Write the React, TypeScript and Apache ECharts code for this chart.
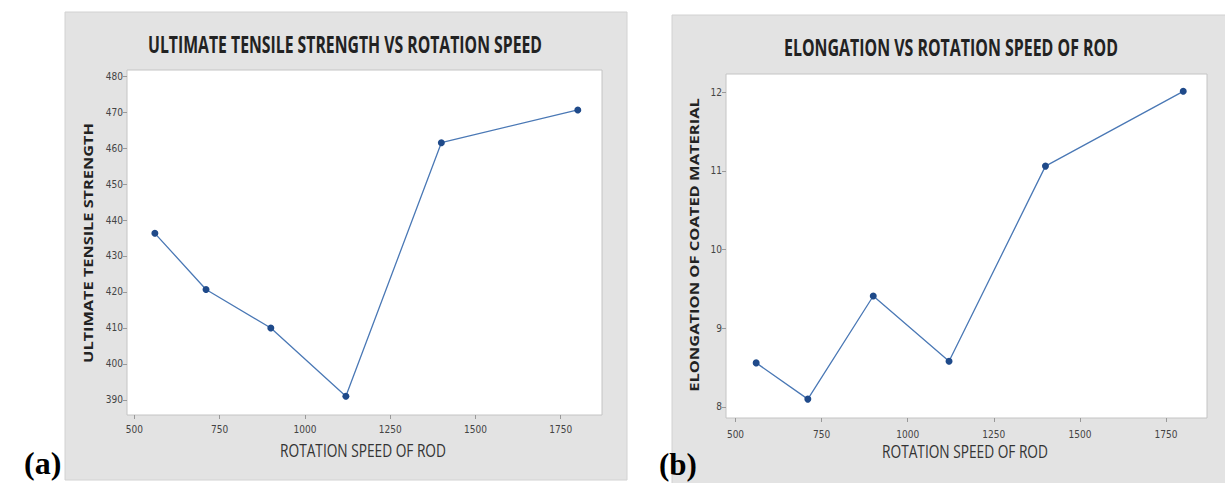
import React, { useEffect, useRef } from "react";
import * as echarts from "echarts";

// ---- data ----
const speeds = [560, 710, 900, 1120, 1400, 1800];
const utsValues = [436.3, 420.7, 410, 391, 461.5, 470.6];
const elongValues = [8.56, 8.1, 9.41, 8.58, 11.06, 12.01];
const xTicks = [500, 750, 1000, 1250, 1500, 1750];
const utsTicks = [390, 400, 410, 420, 430, 440, 450, 460, 470, 480];
const elongTicks = [8, 9, 10, 11, 12];

const titleA = "ULTIMATE TENSILE STRENGTH VS ROTATION SPEED";
const titleB = "ELONGATION VS ROTATION SPEED OF ROD";
const xName = "ROTATION SPEED OF ROD";
const yNameA = "ULTIMATE TENSILE STRENGTH";
const yNameB = "ELONGATION OF COATED MATERIAL";
const labelA = "(a)";
const labelB = "(b)";

const SANS = '"Open Sans", "Noto Sans", sans-serif';
const NARROW = '"Liberation Sans Narrow", "DejaVu Sans Condensed", "Liberation Sans", sans-serif';

function measure(text: string, font: string): number {
  const c = document.createElement("canvas").getContext("2d");
  if (!c) return 100;
  c.font = font;
  return c.measureText(text).width || 100;
}

function fitText(text: string, cx: number, cy: number, size: number, weight: string, target: number, fill: string, rotate = false, across = 1) {
  const font = `${weight} ${size}px ${SANS}`;
  const w = measure(text, font);
  const s = target / w;
  return {
    type: "text",
    x: cx,
    y: cy,
    rotation: rotate ? Math.PI / 2 : 0,
    scaleX: s,
    scaleY: across,
    z: 50,
    style: {
      text,
      font,
      fill,
      align: "center",
      verticalAlign: "middle",
      textAlign: "center",
      textVerticalAlign: "middle",
    },
  };
}

export default function App() {
  const ref = useRef<HTMLDivElement>(null);
  useEffect(() => {
    if (!ref.current) return;
    const chart = echarts.init(ref.current, undefined, { renderer: "svg" });

    const axisLabelStyle = { fontFamily: NARROW, fontSize: 10, color: "#444", formatter: (v: number) => String(v) };
    const lineColor = "#4a78b5";
    const markColor = "#1f4a8a";

    const mkX = (idx: number, min: number, max: number, margin: number) => ({
      type: "value",
      gridIndex: idx,
      min,
      max,
      axisLine: { show: false },
      splitLine: { show: false },
      axisTick: { show: true, length: 4, lineStyle: { color: "#999" }, customValues: xTicks },
      axisLabel: { ...axisLabelStyle, margin, customValues: xTicks },
    });
    const mkY = (idx: number, min: number, max: number, ticks: number[]) => ({
      type: "value",
      gridIndex: idx,
      min,
      max,
      axisLine: { show: false },
      splitLine: { show: false },
      axisTick: { show: true, length: 4, lineStyle: { color: "#999" }, customValues: ticks },
      axisLabel: { ...axisLabelStyle, margin: 4, customValues: ticks },
    });

    const option: any = {
      animation: false,
      backgroundColor: "#ffffff",
      grid: [
        { left: 127, top: 70, width: 475, height: 345, show: true, backgroundColor: "#ffffff", borderColor: "#c4c4c4", borderWidth: 1, containLabel: false },
        { left: 726, top: 74, width: 481, height: 344, show: true, backgroundColor: "#ffffff", borderColor: "#c4c4c4", borderWidth: 1, containLabel: false },
      ],
      xAxis: [mkX(0, 478.3, 1871, 9), mkX(1, 472.4, 1869, 11)],
      yAxis: [mkY(0, 385.8, 481.7, utsTicks), mkY(1, 7.86, 12.23, elongTicks)],
      series: [
        {
          type: "line",
          xAxisIndex: 0,
          yAxisIndex: 0,
          data: speeds.map((s, i) => [s, utsValues[i]]),
          symbol: "circle",
          symbolSize: 7,
          lineStyle: { color: lineColor, width: 1.3 },
          itemStyle: { color: markColor },
        },
        {
          type: "line",
          xAxisIndex: 1,
          yAxisIndex: 1,
          data: speeds.map((s, i) => [s, elongValues[i]]),
          symbol: "circle",
          symbolSize: 7,
          lineStyle: { color: lineColor, width: 1.3 },
          itemStyle: { color: markColor },
        },
      ],
      graphic: [
        { type: "rect", z: -100, shape: { x: 65, y: 12, width: 562, height: 468 }, style: { fill: "#e3e3e3", stroke: "#d2d2d2", lineWidth: 1 } },
        { type: "rect", z: -100, shape: { x: 672, y: 15, width: 560, height: 475 }, style: { fill: "#e3e3e3", stroke: "#d2d2d2", lineWidth: 1 } },
        fitText(titleA, 345, 44, 23, "bold", 394, "#222"),
        fitText(titleB, 951, 47, 23, "bold", 334, "#222"),
        fitText(xName, 363, 450, 19, "normal", 166, "#333"),
        fitText(xName, 965, 451, 19, "normal", 166, "#333"),
        fitText(yNameA, 88, 243, 14, "bold", 240, "#222", true, 0.85),
        fitText(yNameB, 694, 245, 14, "bold", 294, "#222", true, 0.85),
        {
          type: "text", x: 24, y: 463, z: 60,
          style: { text: labelA, font: 'bold 32px "Liberation Serif", "DejaVu Serif", serif', fill: "#000", align: "left", verticalAlign: "middle", textAlign: "left", textVerticalAlign: "middle" },
        },
        {
          type: "text", x: 659, y: 464, z: 60,
          style: { text: labelB, font: 'bold 31px "Liberation Serif", "DejaVu Serif", serif', fill: "#000", align: "left", verticalAlign: "middle", textAlign: "left", textVerticalAlign: "middle" },
        },
      ],
    };
    chart.setOption(option);
    return () => chart.dispose();
  }, []);
  return <div ref={ref} style={{ position: "absolute", left: 0, top: 0, width: 1225, height: 483 }} />;
}
